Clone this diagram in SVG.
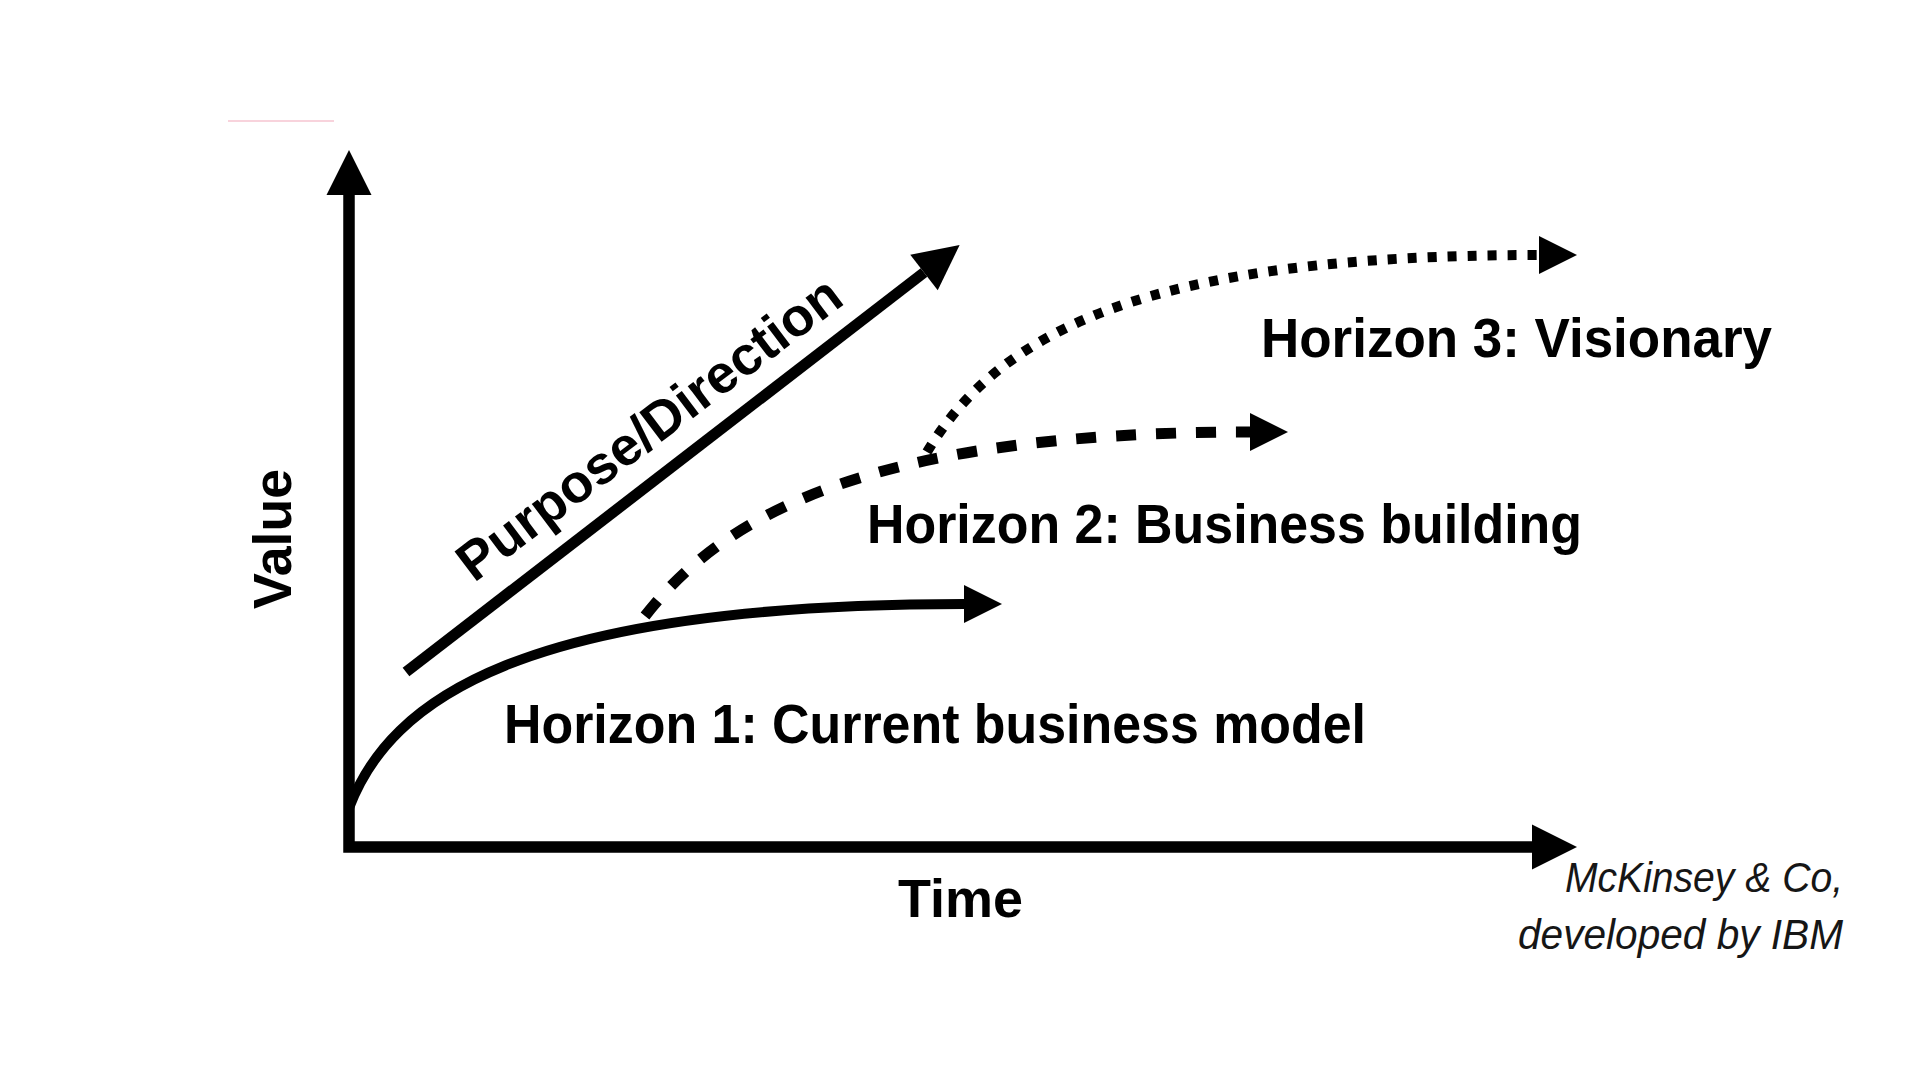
<svg xmlns="http://www.w3.org/2000/svg" width="1920" height="1080" viewBox="0 0 1920 1080">
  <defs>
    <style>
      .axis { fill: none; stroke: #000; stroke-width: 11.5; stroke-linejoin: miter; stroke-linecap: butt; }
      .solid { fill: none; stroke: #000; stroke-linecap: butt; }
      .lbl { font-family: "Liberation Sans", Arial, sans-serif; font-weight: 700; fill: #000; }
      .h { font-size: 55px; }
      .src { font-family: "Liberation Sans", Arial, sans-serif; font-style: italic; font-size: 43px; fill: #161616; }
    </style>
    <marker id="arrowL" markerUnits="userSpaceOnUse" viewBox="0 -23 46 46" markerWidth="46" markerHeight="46" refX="0" refY="0" orient="auto-start-reverse" overflow="visible">
      <path d="M0,-22.5 L45,0 L0,22.5 Z" fill="#000"/>
    </marker>
    <marker id="arrowS" markerUnits="userSpaceOnUse" viewBox="0 -20 40 40" markerWidth="40" markerHeight="40" refX="0" refY="0" orient="auto" overflow="visible">
      <path d="M0,-19 L38,0 L0,19 Z" fill="#000"/>
    </marker>
  </defs>

  <rect x="0" y="0" width="1920" height="1080" fill="#ffffff"/>

  <line x1="228" y1="121" x2="334" y2="121" stroke="#f8d3dc" stroke-width="2"/>

  <g id="connectors">
    <path id="axes" class="axis" d="M349,195 L349,847 L1532,847" marker-start="url(#arrowL)" marker-end="url(#arrowL)"/>
    <path id="purpose-arrow" class="solid" stroke-width="11" d="M406,672 L924,272.5" marker-end="url(#arrowL)"/>
    <path id="h1-curve" class="solid" stroke-width="10" d="M349,808 C390,700 520,604 964,604" marker-end="url(#arrowS)"/>
    <path id="h2-curve" class="solid" stroke-width="11" stroke-dasharray="20 20" d="M645,616 C720,520 860,432 1250,432" marker-end="url(#arrowS)"/>
    <path id="h3-curve" class="solid" stroke-width="10" stroke-dasharray="9 11" d="M927,452 C1000,330 1150,255 1539,255" marker-end="url(#arrowS)"/>
  </g>

  <g id="value-label">
    <text class="lbl" font-size="54" text-anchor="middle" textLength="140" lengthAdjust="spacingAndGlyphs" transform="translate(291,539) rotate(-90)" x="0" y="0">Value</text>
  </g>
  <g id="time-label">
    <text class="lbl" font-size="54" x="898" y="917" textLength="125" lengthAdjust="spacingAndGlyphs">Time</text>
  </g>
  <g id="purpose-label">
    <text class="lbl" font-size="54" text-anchor="middle" textLength="466" lengthAdjust="spacingAndGlyphs" transform="translate(660,443) rotate(-37)" x="0" y="0">Purpose/Direction</text>
  </g>
  <g id="horizon1">
    <text class="lbl h" x="504" y="743" textLength="862" lengthAdjust="spacingAndGlyphs">Horizon 1: Current business model</text>
  </g>
  <g id="horizon2">
    <text class="lbl h" x="867" y="543" textLength="715" lengthAdjust="spacingAndGlyphs">Horizon 2: Business building</text>
  </g>
  <g id="horizon3">
    <text class="lbl h" x="1261" y="357" textLength="511" lengthAdjust="spacingAndGlyphs">Horizon 3: Visionary</text>
  </g>
  <g id="source">
    <text class="src" x="1843" y="892" text-anchor="end" textLength="278" lengthAdjust="spacingAndGlyphs">McKinsey &amp; Co,</text>
    <text class="src" x="1843" y="949" text-anchor="end" textLength="325" lengthAdjust="spacingAndGlyphs">developed by IBM</text>
  </g>
</svg>
